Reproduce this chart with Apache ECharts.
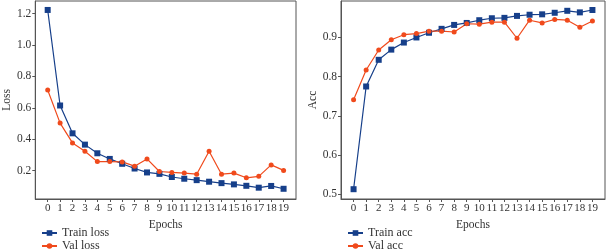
<!DOCTYPE html>
<html>
<head>
<meta charset="utf-8">
<script src="https://cdn.jsdelivr.net/npm/echarts@6/dist/echarts.min.js"></script>
<style>
html, body { margin: 0; padding: 0; background: #fff; }
#main { width: 606px; height: 249px; }
</style>
</head>
<body>
<div id="main"></div>
<script>
var epochs = [0, 1, 2, 3, 4, 5, 6, 7, 8, 9, 10, 11, 12, 13, 14, 15, 16, 17, 18, 19];
var trainLoss = [1.223, 0.615, 0.438, 0.366, 0.311, 0.275, 0.244, 0.214, 0.189, 0.180, 0.160, 0.149, 0.140, 0.130, 0.121, 0.113, 0.104, 0.092, 0.103, 0.085];
var valLoss = [0.714, 0.503, 0.377, 0.324, 0.258, 0.258, 0.256, 0.229, 0.275, 0.195, 0.189, 0.185, 0.178, 0.324, 0.178, 0.185, 0.155, 0.164, 0.237, 0.202];
var trainAcc = [0.513, 0.775, 0.843, 0.869, 0.887, 0.900, 0.912, 0.922, 0.932, 0.937, 0.944, 0.949, 0.950, 0.955, 0.958, 0.959, 0.963, 0.968, 0.964, 0.970];
var valAcc = [0.741, 0.817, 0.868, 0.894, 0.907, 0.910, 0.916, 0.916, 0.914, 0.935, 0.934, 0.939, 0.939, 0.898, 0.944, 0.937, 0.946, 0.944, 0.926, 0.942];
var lossTicks = [0.2, 0.4, 0.6, 0.8, 1.0, 1.2];
var accTicks = [0.5, 0.6, 0.7, 0.8, 0.9];

var blue = '#163f8a';
var orange = '#f04a1c';
var font = 'Liberation Serif';

function pairs(ys) {
	return epochs.map(function (x, i) { return [x, ys[i]]; });
}

function xAxisFor(idx) {
	return {
		type: 'value',
		gridIndex: idx,
		min: -1,
		max: 20,
		name: 'Epochs',
		nameLocation: 'middle',
		nameGap: 14,
		nameTextStyle: { color: '#333', fontFamily: font, fontSize: 11.5 },
		axisLine: { show: true, onZero: false, lineStyle: { color: '#555' } },
		axisTick: { show: true, length: 3, customValues: epochs, lineStyle: { color: '#555' } },
		axisLabel: { customValues: epochs, margin: 4, color: '#333', fontFamily: font, fontSize: 11 },
		splitLine: { show: false }
	};
}

function yAxisFor(idx, name, min, max, ticks, gap) {
	return {
		type: 'value',
		gridIndex: idx,
		min: min,
		max: max,
		name: name,
		nameLocation: 'middle',
		nameGap: gap,
		nameTextStyle: { color: '#333', fontFamily: font, fontSize: 11.5 },
		axisLine: { show: true, onZero: false, lineStyle: { color: '#555' } },
		axisTick: { show: true, length: 3, customValues: ticks, lineStyle: { color: '#555' } },
		axisLabel: {
			customValues: ticks, margin: 4, color: '#333', fontFamily: font, fontSize: 11.5,
			formatter: function (v) { return v.toFixed(1); }
		},
		splitLine: { show: false }
	};
}

function lineSeries(name, ys, idx, color, symbol, size) {
	return {
		name: name,
		type: 'line',
		xAxisIndex: idx,
		yAxisIndex: idx,
		data: pairs(ys),
		symbol: symbol,
		symbolSize: size,
		showAllSymbol: true,
		itemStyle: { color: color },
		lineStyle: { color: color, width: 1.2 },
		animation: false
	};
}

var myChart = echarts.init(document.getElementById('main'));
var option = {
	backgroundColor: '#fff',
	grid: [
		{ left: 31, top: 1, right: 310, bottom: 50, show: true, borderColor: '#555', borderWidth: 1 },
		{ left: 341, top: 1, right: 1, bottom: 50, show: true, borderColor: '#555', borderWidth: 1 }
	],
	legend: [
		{
			data: ['Train loss', 'Val loss'],
			orient: 'vertical', left: 41, top: 227, height: 40, padding: 0, itemGap: 1,
			itemWidth: 15, itemHeight: 7,
			textStyle: { color: '#333', fontFamily: font, fontSize: 12 }
		},
		{
			data: ['Train acc', 'Val acc'],
			orient: 'vertical', left: 347, top: 227, height: 40, padding: 0, itemGap: 1,
			itemWidth: 15, itemHeight: 7,
			textStyle: { color: '#333', fontFamily: font, fontSize: 12 }
		}
	],
	xAxis: [xAxisFor(0), xAxisFor(1)],
	yAxis: [
		yAxisFor(0, 'Loss', 0.02, 1.28, lossTicks, 22),
		yAxisFor(1, 'Acc', 0.488, 0.993, accTicks, 22)
	],
	series: [
		lineSeries('Train loss', trainLoss, 0, blue, 'rect', 6),
		lineSeries('Val loss', valLoss, 0, orange, 'circle', 5),
		lineSeries('Train acc', trainAcc, 1, blue, 'rect', 6),
		lineSeries('Val acc', valAcc, 1, orange, 'circle', 5)
	]
};
myChart.setOption(option);
</script>
</body>
</html>
